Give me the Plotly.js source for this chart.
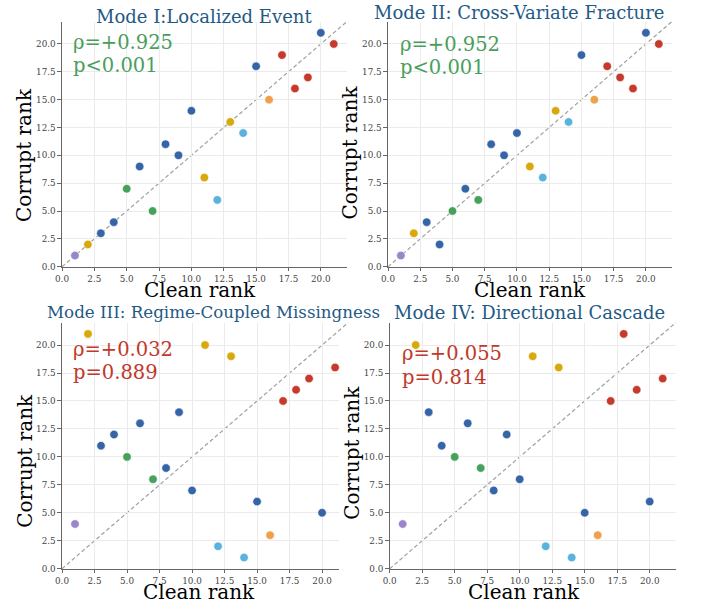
<!DOCTYPE html>
<html>
<head>
<meta charset="utf-8">
<script src="https://cdn.plot.ly/plotly-3.0.1.min.js"></script>
<style>html,body{margin:0;padding:0;background:#fff;}#chart{width:710px;height:604px;}</style>
</head>
<body>
<div id="chart"></div>
<script>
// ---- data ----
const cleanRank = [1,2,3,4,5,6,7,8,9,10,11,12,13,14,15,16,17,18,19,20,21];
const groupOf = ['purple','yellow','blue','blue','green','blue','green','blue','blue','blue','yellow','cyan','yellow','cyan','blue','orange','red','red','red','blue','red'];
const corruptMode1 = [1,2,3,4,7,9,5,11,10,14,8,6,13,12,18,15,19,16,17,21,20];
const corruptMode2 = [1,3,4,2,5,7,6,11,10,12,9,8,14,13,19,15,18,17,16,21,20];
const corruptMode3 = [4,21,11,12,10,13,8,9,14,7,20,2,19,1,6,3,15,16,17,5,18];
const corruptMode4 = [4,20,14,11,10,13,9,7,12,8,19,2,18,1,5,3,15,21,16,6,17];
const modeTitles = ['Mode I:Localized Event','Mode II: Cross-Variate Fracture','Mode III: Regime-Coupled Missingness','Mode IV: Directional Cascade'];
const rhoLabels = ['ρ=+0.925','ρ=+0.952','ρ=+0.032','ρ=+0.055'];
const pLabels = ['p<0.001','p<0.001','p=0.889','p=0.814'];
const significant = [true,true,false,false];
const xTitle = 'Clean rank';
const yTitle = 'Corrupt rank';
const diagMax = 22;

// ---- style / layout ----
const palette = {purple:'#9a86cb',yellow:'#d8a90c',blue:'#3565a6',green:'#46a15a',cyan:'#5ab3dd',orange:'#efa04a',red:'#c53a2d'};
const W = 710, H = 604;
const series = [corruptMode1,corruptMode2,corruptMode3,corruptMode4];
// plot areas in px: [left,right,top,bottom]
const boxes = [[62,346.7,21.7,266.7],[388,671.7,21.7,266.7],[62,339,322.7,568.7],[389.7,675.7,322.7,568.7]];
const xMax = [22,22,21.3,22];
const titlePos = [[204,17],[519.3,12.5],[213.8,312.5],[529,312.5]];
const titleSize = [18,18,16.7,18];
const statPos = [[73.3,43,65.3],[400,44.7,67.2],[73.3,349.5,372.8],[401.7,353,377.2]];
const xTitlePos = [[200,290],[530,290],[198.7,592],[523.5,592]];
const yTitlePos = [[24,155],[350,152.5],[25,460.8],[351.7,453]];

const serif = 'DejaVu Serif, serif';
const traces = [];
const layout = {
  width: W, height: H,
  margin: {l:0,r:0,t:0,b:0},
  paper_bgcolor:'#fff', plot_bgcolor:'rgba(0,0,0,0)',
  showlegend:false,
  font:{family:serif,color:'#333'},
  annotations:[], shapes:[]
};
const colors = groupOf.map(g => palette[g]);
function txt(x, y, text, size, color, opts){
  return Object.assign({xref:'paper', yref:'paper', x:x/W, y:1-y/H, xanchor:'center', yanchor:'middle',
    text:text, showarrow:false, font:{size:size, color:color, family:serif}}, opts||{});
}
for (let i=0;i<4;i++){
  const b = boxes[i];
  const xa = 'x'+(i+1), ya = 'y'+(i+1);
  const xd = [b[0]/W, b[1]/W], yd = [1-b[3]/H, 1-b[2]/H];
  const common = {
    showline:true, linecolor:'#666', linewidth:1.1,
    ticks:'outside', ticklen:3.5, tickcolor:'#666', tickwidth:1,
    tick0:0, dtick:2.5, tickformat:'.1f',
    tickfont:{size:8.8,color:'#444',family:serif},
    showgrid:true, gridcolor:'#ebebeb', gridwidth:1, zeroline:false,
    automargin:false, fixedrange:true
  };
  layout['xaxis'+(i===0?'':(i+1))] = Object.assign({}, common, {domain: xd, range:[0,xMax[i]], anchor: ya});
  layout['yaxis'+(i===0?'':(i+1))] = Object.assign({}, common, {domain: yd, range:[0,22], anchor: xa});
  // diagonal reference y = x from 0 to diagMax, in axis-domain units (may run past a shorter x axis)
  layout.shapes.push({
    type:'line', xref: xa+' domain', yref: ya+' domain', layer:'below',
    x0:0, y0:0, x1: diagMax/xMax[i], y1: diagMax/22,
    line:{color:'#a0a0a0', width:1.2, dash:'4px,2.5px'}
  });
  traces.push({
    x: cleanRank, y: series[i], xaxis:xa, yaxis:ya,
    type:'scatter', mode:'markers', cliponaxis:false,
    marker:{size:8.5, color:colors, line:{color:'#fff', width:0.6}}
  });
  layout.annotations.push(txt(titlePos[i][0], titlePos[i][1], modeTitles[i], titleSize[i], '#1f5a85'));
  const sc = significant[i] ? '#4a9e5d' : '#c0392b';
  layout.annotations.push(txt(statPos[i][0], statPos[i][1], rhoLabels[i], 19.5, sc, {xanchor:'left', xshift:-2}));
  layout.annotations.push(txt(statPos[i][0], statPos[i][2], pLabels[i], 19.5, sc, {xanchor:'left', xshift:-2}));
  layout.annotations.push(txt(xTitlePos[i][0], xTitlePos[i][1], xTitle, 20, '#000'));
  layout.annotations.push(txt(yTitlePos[i][0], yTitlePos[i][1], yTitle, 20, '#000', {textangle:-90}));
}
Plotly.newPlot('chart', traces, layout, {displayModeBar:false, staticPlot:true});
</script>
</body>
</html>
